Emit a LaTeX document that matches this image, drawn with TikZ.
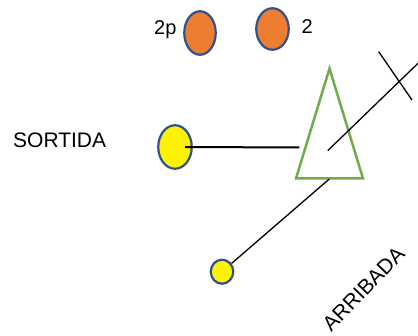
\documentclass[tikz,border=0pt]{standalone}
\usepackage{fontspec}
\setmainfont{Liberation Sans}
\usetikzlibrary{shapes.geometric}
\definecolor{dotorange}{HTML}{ED7D31}
\definecolor{dotborder}{HTML}{2F528F}
\definecolor{trigreen}{HTML}{70AD47}
\begin{document}
\begin{tikzpicture}[x=1pt,y=-1pt,
  dot/.style={ellipse,draw=dotborder,line width=2.2pt,inner sep=0pt},
  lbl/.style={inner sep=0pt,font=\fontsize{20}{24}\selectfont},
  biglbl/.style={inner sep=0pt,font=\fontsize{21}{25}\selectfont},
  thinline/.style={line width=1.3pt,black},
  thickline/.style={line width=2pt,black}]
\useasboundingbox (0,0) rectangle (418,336);
% orange dots
\node[dot,fill=dotorange,minimum width=31.5pt,minimum height=43.5pt] (o1) at (200,33) {};
\node[dot,fill=dotorange,minimum width=32.5pt,minimum height=41.5pt] (o2) at (272.5,29) {};
\node[lbl,anchor=base west] (l2p) at (154,34.3) {2p};
\node[lbl,anchor=base west] (l2) at (301.5,33.5) {2};
% sortida
\node[biglbl,anchor=base west] (sortida) at (13,147.3) {SORTIDA};
\node[dot,fill=yellow,minimum width=33.5pt,minimum height=43.5pt] (ybig) at (175,147) {};
% small yellow dot
\node[dot,fill=yellow,minimum width=22.5pt,minimum height=24pt] (ysmall) at (222,271.7) {};
% triangle
\coordinate (ta) at (329.5,68.5);
\coordinate (tb) at (296,178.5);
\coordinate (tc) at (363,178.5);
\draw[trigreen,line width=2.5pt] (ta) -- (tb) -- (tc) -- cycle;
% connectors
\coordinate (hend) at (299.3,147.5);
\draw[thickline] ([xshift=10pt]ybig.center) -- (hend);
\coordinate (dstart) at (327.7,150.7);
\coordinate (dend) at (418,63.3);
\draw[thinline] (dstart) -- (dend);
\coordinate (xa) at (378.7,51.7);
\coordinate (xb) at (412,100);
\draw[thinline] (xa) -- (xb);
\coordinate (lstart) at (329.3,179);
\draw[thinline] (lstart) -- (ysmall);
% arribada
\node[biglbl,rotate=46] (arribada) at (363.5,289) {ARRIBADA};
\end{tikzpicture}
\end{document}
